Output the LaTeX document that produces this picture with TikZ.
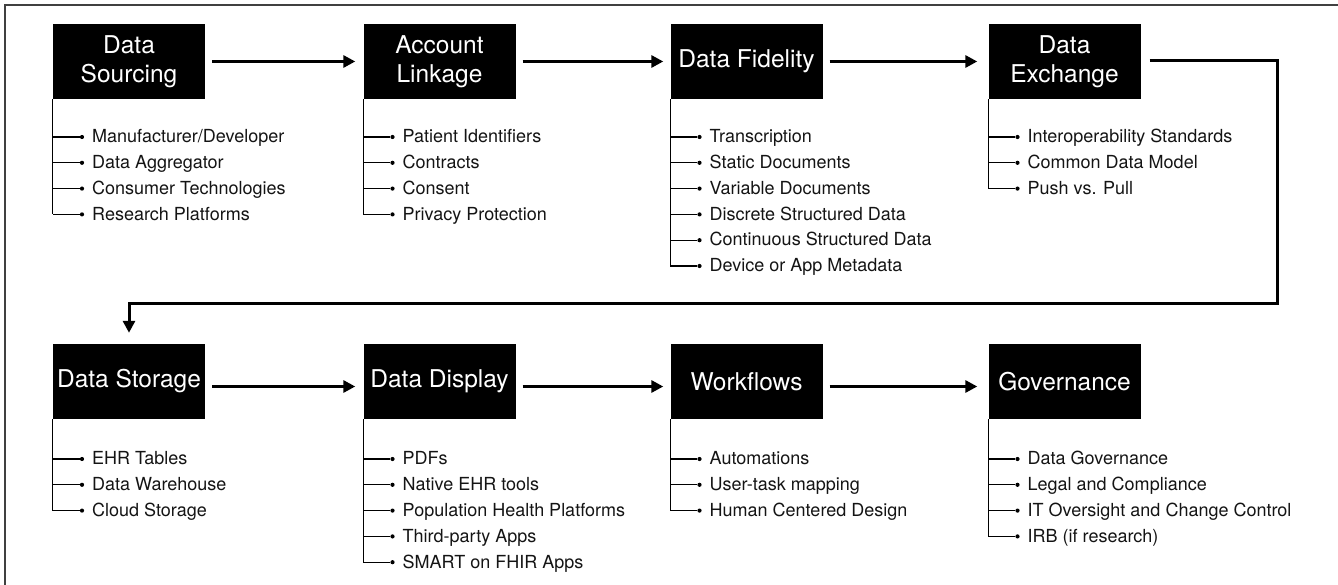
\documentclass[tikz,border=0pt]{standalone}
\usepackage{fontspec}
\setmainfont{TeX Gyre Heros}
\usetikzlibrary{arrows.meta}
\newcommand\stagelist[4]{% #1 name, #2 left x, #3 first y, #4 list
  \foreach \txt [count=\i] in {#4} {%
    \pgfmathsetmacro\yy{#3+(\i-1)*25.8}%
    \node[dotn] (#1d\i) at (#2+29,\yy) {};
    \node[item] (#1t\i) at (#2+39,\yy+5.8) {\txt};
    \draw[branch] (#1.south west |- #1d\i) -- (#1d\i);
    \xdef\lastitem{\i}%
  }
  \draw[branch] (#1.south west) -- (#1.south west |- #1d\lastitem);
}
\begin{document}
\begin{tikzpicture}[x=1pt,y=-1pt,
  stage/.style={fill=black,text=white,minimum width=152pt,minimum height=75pt,
    inner sep=0pt,align=center,font=\fontsize{24.5}{28.5}\selectfont},
  item/.style={anchor=base west,inner sep=0pt,text=black!92,
    font=\fontsize{18}{20}\selectfont},
  dotn/.style={circle,fill=black,inner sep=0pt,minimum size=4.2pt},
  flow/.style={line width=3pt,-{Triangle[length=12pt,width=12pt]}},
  branch/.style={line width=1.2pt}]
\useasboundingbox (0,0) rectangle (1338,585);
\draw[line width=1.5pt,black!75] (5,585) -- (5,5) -- (1338,5);

% row 1
\node[stage] (b1) at (129,61.5) {Data\\Sourcing};
\node[stage] (b2) at (439.5,61.5) {Account\\Linkage};
\node[stage] (b3) at (746.5,61.5) {Data Fidelity};
\node[stage] (b4) at (1064.5,61.5) {Data\\Exchange};
% row 2
\node[stage] (b5) at (129,381.5) {Data Storage};
\node[stage] (b6) at (439.5,381.5) {Data Display};
\node[stage] (b7) at (746.5,381.5) {Workflows};
\node[stage] (b8) at (1064.5,381.5) {Governance};

% flow arrows
\draw[flow] ([xshift=7pt]b1.east) -- ([xshift=-8pt]b2.west);
\draw[flow] ([xshift=7pt]b2.east) -- ([xshift=-7pt]b3.west);
\draw[flow] ([xshift=7pt]b3.east) -- ([xshift=-11pt]b4.west);
\coordinate (turn) at (1277,303);
\draw[flow] ([xshift=9pt,yshift=1pt]b4.east) -| (turn) -| ([yshift=11pt]b5.north);
\draw[flow] ([xshift=7pt,yshift=-5pt]b5.east) -- ([xshift=-8pt,yshift=-5pt]b6.west);
\draw[flow] ([xshift=7pt,yshift=-5pt]b6.east) -- ([xshift=-7pt,yshift=-5pt]b7.west);
\draw[flow] ([xshift=7pt,yshift=-5pt]b7.east) -- ([xshift=-11pt,yshift=-5pt]b8.west);

% item lists
\stagelist{b1}{53}{137}{Manufacturer/Developer,Data Aggregator,Consumer Technologies,Research Platforms}
\stagelist{b2}{363.5}{137}{Patient Identifiers,Contracts,Consent,Privacy Protection}
\stagelist{b3}{670.5}{137}{Transcription,Static Documents,Variable Documents,Discrete Structured Data,Continuous Structured Data,Device or App Metadata}
\stagelist{b4}{988.5}{137}{Interoperability Standards,Common Data Model,Push vs. Pull}
\stagelist{b5}{53}{459}{EHR Tables,Data Warehouse,Cloud Storage}
\stagelist{b6}{363.5}{459}{PDFs,Native EHR tools,Population Health Platforms,Third-party Apps,SMART on FHIR Apps}
\stagelist{b7}{670.5}{459}{Automations,User-task mapping,Human Centered Design}
\stagelist{b8}{988.5}{459}{Data Governance,Legal and Compliance,IT Oversight and Change Control,IRB (if research)}
\end{tikzpicture}
\end{document}
